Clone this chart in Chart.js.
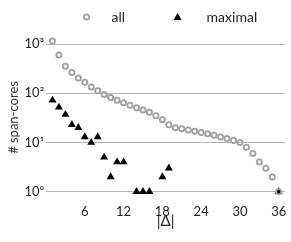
<!DOCTYPE html>
<html>
<head>
<meta charset="utf-8">
<script src="https://cdn.jsdelivr.net/npm/chart.js@4"></script>
<style>
  html, body { margin: 0; padding: 0; background: #fff; }
  #wrap { width: 291px; height: 242px; position: relative; }
</style>
</head>
<body>
<div id="wrap"><canvas id="chart"></canvas></div>
<script>
// |Delta| values and counts
const allX = [1,2,3,4,5,6,7,8,9,10,11,12,13,14,15,16,17,18,19,20,21,22,23,24,25,26,27,28,29,30,31,32,33,34,35,36];
const allY = [1150,600,355,265,205,168,135,113,95,82,72,64,57,51,46,41,35,29,23,20,19,18,17,16,15,14,13,12,11,10,8,6,4,3,2,1];
const maxX = [1,2,3,4,5,6,7,8,9,10,11,12,14,15,16,18,19,36];
const maxY = [72,52,37,23,20,13,10,13,5,2,4,4,1,1,1,2,3,1];
const xTicks = [6,12,18,24,30,36];
const yTicks = [1,10,100,1000];
const supers = {0:'\u2070',1:'\u00b9',2:'\u00b2',3:'\u00b3'};

const font = 'Lato';
const ctx = document.getElementById('chart');

// simple legend row drawn above the plot
const legendRow = {
    id: 'legendRow',
    afterDraw(chart) {
        const c = chart.ctx;
        const mid = (chart.chartArea.left + chart.chartArea.right) / 2;
        const y = 17;
        c.save();
        c.font = '14px ' + font;
        c.fillStyle = '#222';
        c.textBaseline = 'middle';
        // all
        c.beginPath();
        c.arc(mid - 79, y, 2.6, 0, Math.PI * 2);
        c.strokeStyle = '#a0a0a0';
        c.lineWidth = 1.8;
        c.stroke();
        c.fillText('all', mid - 54, y);
        // maximal
        c.beginPath();
        c.moveTo(mid + 12, y - 4);
        c.lineTo(mid + 16, y + 3);
        c.lineTo(mid + 8, y + 3);
        c.closePath();
        c.fillStyle = '#000';
        c.fill();
        c.fillStyle = '#222';
        c.fillText('maximal', mid + 41, y);
        c.restore();
    }
};

new Chart(ctx, {
    type: 'scatter',
    data: {
        datasets: [{
            label: 'all',
            data: allX.map((x, i) => ({x: x, y: allY[i]})),
            pointStyle: 'circle',
            pointRadius: 2.6,
            pointBorderWidth: 1.8,
            pointBorderColor: '#a0a0a0',
            pointBackgroundColor: 'rgba(255,255,255,0)'
        }, {
            label: 'maximal',
            data: maxX.map((x, i) => ({x: x, y: maxY[i]})),
            pointStyle: 'triangle',
            pointRadius: 4.6,
            pointBorderWidth: 0,
            pointBorderColor: '#000',
            pointBackgroundColor: '#000'
        }]
    },
    options: {
        responsive: true,
        maintainAspectRatio: false,
        animation: false,
        layout: { padding: { top: 35, right: 5, bottom: 12, left: 0 } },
        plugins: {
            legend: { display: false },
            tooltip: { enabled: false }
        },
        scales: {
            x: {
                type: 'linear',
                min: 0,
                max: 37,
                afterBuildTicks: (axis) => { axis.ticks = xTicks.map(v => ({value: v})); },
                afterFit: (axis) => { axis.height = 30; },
                grid: { display: false, drawTicks: false },
                border: { display: false },
                ticks: { color: '#222', font: { family: font, size: 13 }, padding: 4, maxRotation: 0 },
                title: { display: true, text: '|\u0394|', color: '#222', font: { family: font, size: 15 }, padding: 0 }
            },
            y: {
                type: 'logarithmic',
                min: 0.678,
                max: 1530,
                afterBuildTicks: (axis) => { axis.ticks = yTicks.map(v => ({value: v})); },
                afterFit: (axis) => { axis.width = 46; },
                grid: { color: '#b4b4b4', lineWidth: 1, drawTicks: false },
                border: { display: false },
                ticks: {
                    color: '#222',
                    font: { family: font, size: 13 },
                    padding: 2,
                    callback: (v) => '10' + supers[Math.round(Math.log10(v))]
                },
                title: { display: true, text: '# span-cores', color: '#333', font: { family: font, size: 13 }, padding: { top: 6, bottom: 0 } }
            }
        }
    },
    plugins: [legendRow]
});
</script>
</body>
</html>
